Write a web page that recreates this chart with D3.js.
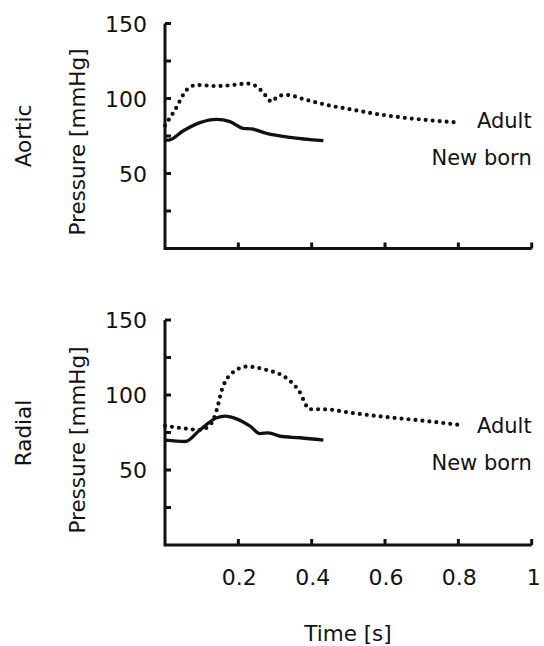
<!DOCTYPE html>
<html><head><meta charset="utf-8">
<script src="https://cdn.jsdelivr.net/npm/d3@7"></script>
<style>body{margin:0;background:#fff}svg{display:block}text{font-family:"DejaVu Sans",sans-serif;fill:#111}</style>
</head><body>
<script>
const xTicks = [0.2, 0.4, 0.6, 0.8, 1];
const xTickLabels = ["0.2", "0.4", "0.6", "0.8", "1"];
const yTicks = [25, 50, 75, 100, 125, 150];
const yTickLabels = ["50", "100", "150"];
const seriesNames = ["Adult", "New born"];

const aorticAdultT = [0.0, 0.027, 0.059, 0.086, 0.141, 0.186, 0.223, 0.25, 0.273, 0.291, 0.309, 0.332, 0.386, 0.441, 0.505, 0.595, 0.686, 0.805];
const aorticAdultP = [82, 92.3, 105.7, 109, 108.3, 109, 110, 108, 102.3, 97.9, 101.7, 102.3, 99, 95.7, 92.8, 89, 86.3, 83.9];
const aorticNewbornT = [0.0, 0.01, 0.05, 0.095, 0.141, 0.177, 0.214, 0.236, 0.277, 0.341, 0.432];
const aorticNewbornP = [72.3, 72.3, 78.5, 83.9, 86.1, 84.6, 80.1, 79.7, 76.8, 74.1, 71.9];

const radialAdultT = [0.0, 0.05, 0.095, 0.123, 0.141, 0.155, 0.177, 0.223, 0.277, 0.332, 0.364, 0.395, 0.432, 0.505, 0.595, 0.686, 0.805];
const radialAdultP = [79.5, 77.8, 76.7, 80, 90, 103.3, 113.3, 118.9, 116.7, 111.1, 103.3, 90.5, 90.5, 88.2, 85.5, 83.3, 80];
const radialNewbornT = [0.0, 0.055, 0.095, 0.141, 0.164, 0.195, 0.232, 0.259, 0.282, 0.314, 0.368, 0.432];
const radialNewbornP = [69.9, 69, 76.7, 84.8, 85.9, 84.1, 79.2, 74.3, 74.8, 72.5, 71.5, 69.9];

const W = 544, H = 646;
const svg = d3.select("body").append("svg").attr("width", W).attr("height", H);
const x = d3.scaleLinear().domain([0, 1]).range([165, 531.7]);

const panels = [
  {name: "Aortic", top: 23.5, bottom: 248.5, adultT: aorticAdultT, adultP: aorticAdultP, nbT: aorticNewbornT, nbP: aorticNewbornP, labelY: 136, presY: 142, adultBase: 128, nbBase: 165, xLabels: false},
  {name: "Radial", top: 320, bottom: 545, adultT: radialAdultT, adultP: radialAdultP, nbT: radialNewbornT, nbP: radialNewbornP, labelY: 433, presY: 440, adultBase: 433, nbBase: 470, xLabels: true}
];

panels.forEach(p => {
  const y = d3.scaleLinear().domain([0, 150]).range([p.bottom, p.top]);
  const g = svg.append("g");
  g.append("path").attr("d", `M${x(0)},${y(150)}V${y(0)}H${x(1)}`)
    .attr("fill", "none").attr("stroke", "#111").attr("stroke-width", 3).attr("stroke-linejoin", "miter");
  yTicks.forEach(t => {
    g.append("line").attr("x1", x(0)).attr("x2", x(0) + 6).attr("y1", y(t)).attr("y2", y(t))
      .attr("stroke", "#111").attr("stroke-width", 3);
  });
  xTicks.forEach(t => {
    g.append("line").attr("x1", x(t)).attr("x2", x(t)).attr("y1", y(0)).attr("y2", y(0) - 6)
      .attr("stroke", "#111").attr("stroke-width", 3);
  });
  yTickLabels.forEach(l => {
    g.append("text").attr("x", 147).attr("y", y(+l) + 8).attr("text-anchor", "end")
      .attr("font-size", 22).text(l);
  });
  if (p.xLabels) {
    xTicks.forEach((t, i) => {
      g.append("text").attr("x", x(t) + (t === 1 ? 2 : 1)).attr("y", 585).attr("text-anchor", "middle")
        .attr("font-size", 22).text(xTickLabels[i]);
    });
  }
  g.append("text").attr("transform", `translate(31,${p.labelY}) rotate(-90)`)
    .attr("text-anchor", "middle").attr("font-size", 21.5).text(p.name);
  g.append("text").attr("transform", `translate(85,${p.presY}) rotate(-90)`)
    .attr("text-anchor", "middle").attr("font-size", 21.5).text("Pressure [mmHg]");

  const line = d3.line().x(d => x(d[0])).y(d => y(d[1])).curve(d3.curveMonotoneX);
  const adult = p.adultT.map((t, i) => [t, p.adultP[i]]);
  const nb = p.nbT.map((t, i) => [t, p.nbP[i]]);
  g.append("path").attr("d", line(adult)).attr("fill", "none").attr("stroke", "#111")
    .attr("stroke-width", 4.2).attr("stroke-linecap", "round").attr("stroke-dasharray", "0 7");
  g.append("path").attr("d", line(nb)).attr("fill", "none").attr("stroke", "#111")
    .attr("stroke-width", 3.3).attr("stroke-linejoin", "round");

  g.append("text").attr("x", 531.7).attr("y", p.adultBase).attr("text-anchor", "end")
    .attr("font-size", 21).text(seriesNames[0]);
  g.append("text").attr("x", 531.7).attr("y", p.nbBase).attr("text-anchor", "end")
    .attr("font-size", 21).text(seriesNames[1]);
});

svg.append("text").attr("x", 348).attr("y", 641).attr("text-anchor", "middle")
  .attr("font-size", 21.5).text("Time [s]");
</script>
</body></html>
